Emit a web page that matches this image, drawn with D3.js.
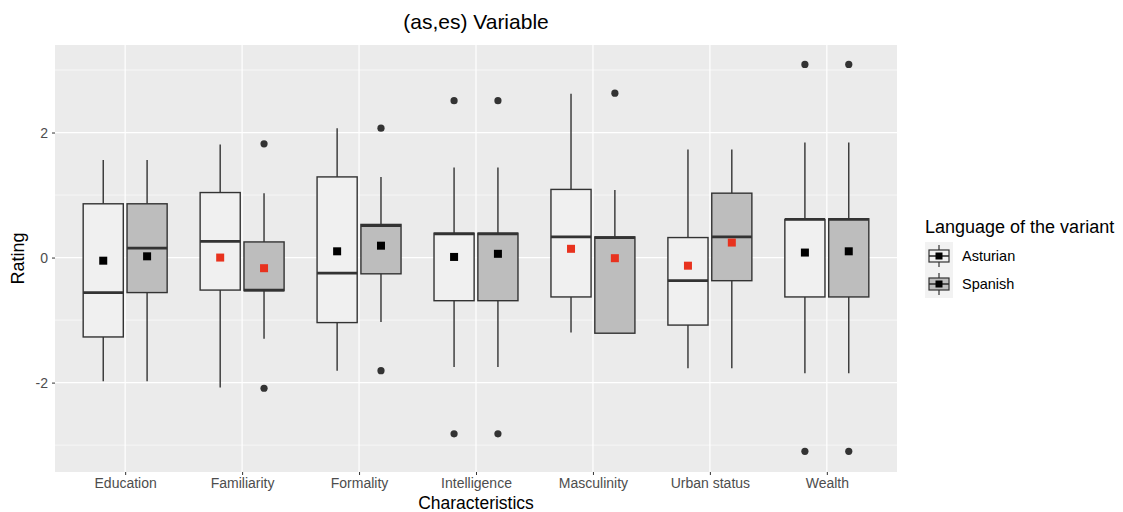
<!DOCTYPE html>
<html>
<head>
<meta charset="utf-8">
<script src="https://cdn.jsdelivr.net/npm/d3@7"></script>
<style>
  body { margin: 0; background: #fff; }
  text { font-family: "Liberation Sans", Arial, sans-serif; }
</style>
</head>
<body>
<svg id="chart" width="1123" height="512"></svg>
<script>
// categories and groups
const categories = ['Education', 'Familiarity', 'Formality', 'Intelligence', 'Masculinity', 'Urban status', 'Wealth'];
const groups = ['Asturian', 'Spanish'];

// box statistics, one value per category
const asturianLow    = [-1.98, -2.08, -1.81, -1.75, -1.20, -1.77, -1.85];
const asturianQ1     = [-1.27, -0.52, -1.04, -0.69, -0.63, -1.08, -0.63];
const asturianMedian = [-0.56,  0.26, -0.25,  0.38,  0.33, -0.37,  0.61];
const asturianQ3     = [ 0.86,  1.04,  1.29,  0.39,  1.09,  0.32,  0.61];
const asturianHigh   = [ 1.56,  1.81,  2.07,  1.44,  2.62,  1.73,  1.84];
const asturianMean   = [-0.05,  0.00,  0.10,  0.01,  0.14, -0.13,  0.08];
const asturianOut    = [[], [], [], [2.51, -2.82], [], [], [3.09, -3.10]];

const spanishLow     = [-1.98, -1.30, -1.03, -1.75, -1.21, -1.77, -1.85];
const spanishQ1      = [-0.56, -0.53, -0.26, -0.69, -1.21, -0.37, -0.63];
const spanishMedian  = [ 0.15, -0.52,  0.51,  0.38,  0.32,  0.33,  0.61];
const spanishQ3      = [ 0.86,  0.25,  0.53,  0.39,  0.33,  1.03,  0.62];
const spanishHigh    = [ 1.56,  1.03,  1.29,  1.44,  1.08,  1.73,  1.84];
const spanishMean    = [ 0.02, -0.17,  0.19,  0.06, -0.01,  0.24,  0.10];
const spanishOut     = [[], [1.82, -2.09], [2.07, -1.81], [2.51, -2.82], [2.63], [], [3.09, -3.10]];

// categories where the mean markers are drawn in red
const redCategories = ['Familiarity', 'Masculinity', 'Urban status'];

const yTicks = [-2, 0, 2];
const yMinor = [-3, -1, 1, 3];

const fills = { Asturian: '#f0f0f0', Spanish: '#bdbdbd' };

function buildRows(name, low, q1, med, q3, high, mean, out) {
  return categories.map((c, i) => ({
    cat: c, group: name, low: low[i], q1: q1[i], median: med[i], q3: q3[i],
    high: high[i], mean: mean[i], outliers: out[i]
  }));
}

const rows = buildRows('Asturian', asturianLow, asturianQ1, asturianMedian, asturianQ3, asturianHigh, asturianMean, asturianOut)
  .concat(buildRows('Spanish', spanishLow, spanishQ1, spanishMedian, spanishQ3, spanishHigh, spanishMean, spanishOut));

// panel layout
const panel = { left: 55, right: 897, top: 45, bottom: 472 };

const svg = d3.select('#chart');

// discrete x with ggplot-like 0.6 expansion
const x = d3.scalePoint()
  .domain(categories)
  .range([panel.left, panel.right])
  .padding(0.6);
const step = x.step();

const y = d3.scaleLinear()
  .domain([-3.43, 3.4])
  .range([panel.bottom, panel.top]);

const dodge = d3.scalePoint()
  .domain(groups)
  .range([-0.1875 * step, 0.1875 * step]);
const boxW = 0.343 * step;

// panel background
svg.append('rect')
  .attr('x', panel.left).attr('y', panel.top)
  .attr('width', panel.right - panel.left)
  .attr('height', panel.bottom - panel.top)
  .attr('fill', '#ebebeb');

const grid = svg.append('g');
grid.selectAll('.minor').data(yMinor).enter().append('line')
  .attr('x1', panel.left).attr('x2', panel.right)
  .attr('y1', d => y(d)).attr('y2', d => y(d))
  .attr('stroke', '#fff').attr('stroke-width', 0.6);
grid.selectAll('.major').data(yTicks).enter().append('line')
  .attr('x1', panel.left).attr('x2', panel.right)
  .attr('y1', d => y(d)).attr('y2', d => y(d))
  .attr('stroke', '#fff').attr('stroke-width', 1.2);
grid.selectAll('.vmajor').data(categories).enter().append('line')
  .attr('x1', d => x(d)).attr('x2', d => x(d))
  .attr('y1', panel.top).attr('y2', panel.bottom)
  .attr('stroke', '#fff').attr('stroke-width', 1.2);

// boxes
const box = svg.append('g').selectAll('g')
  .data(rows).enter().append('g')
  .attr('transform', d => `translate(${x(d.cat) + dodge(d.group)},0)`);

box.append('line')
  .attr('y1', d => y(d.high)).attr('y2', d => y(d.q3))
  .attr('stroke', '#333').attr('stroke-width', 1.4);
box.append('line')
  .attr('y1', d => y(d.q1)).attr('y2', d => y(d.low))
  .attr('stroke', '#333').attr('stroke-width', 1.4);
box.append('rect')
  .attr('x', -boxW / 2).attr('width', boxW)
  .attr('y', d => y(d.q3))
  .attr('height', d => y(d.q1) - y(d.q3))
  .attr('fill', d => fills[d.group])
  .attr('stroke', '#333').attr('stroke-width', 1.4);
box.append('line')
  .attr('x1', -boxW / 2).attr('x2', boxW / 2)
  .attr('y1', d => y(d.median)).attr('y2', d => y(d.median))
  .attr('stroke', '#333').attr('stroke-width', 2.8);

box.selectAll('circle')
  .data(d => d.outliers).enter().append('circle')
  .attr('r', 3.6)
  .attr('cy', d => y(d))
  .attr('fill', '#333');

box.append('rect')
  .attr('x', -4).attr('width', 8).attr('height', 8)
  .attr('y', d => y(d.mean) - 4)
  .attr('fill', d => redCategories.includes(d.cat) ? '#e8321e' : '#000');

// axes
const xAxis = svg.append('g')
  .attr('transform', `translate(0,${panel.bottom})`)
  .call(d3.axisBottom(x).tickSize(3).tickPadding(3));
const yAxis = svg.append('g')
  .attr('transform', `translate(${panel.left},0)`)
  .call(d3.axisLeft(y).tickValues(yTicks).tickFormat(d => String(d)).tickSize(3).tickPadding(4));

[xAxis, yAxis].forEach(a => {
  a.select('.domain').remove();
  a.selectAll('.tick line').attr('stroke', '#333');
  a.selectAll('.tick text').attr('fill', '#4d4d4d').style('font-size', '14px');
});

// titles
svg.append('text')
  .attr('x', (panel.left + panel.right) / 2).attr('y', 29)
  .attr('text-anchor', 'middle')
  .style('font-size', '21px')
  .text('(as,es) Variable');

svg.append('text')
  .attr('x', (panel.left + panel.right) / 2).attr('y', 509)
  .attr('text-anchor', 'middle')
  .style('font-size', '17.5px')
  .text('Characteristics');

svg.append('text')
  .attr('transform', `translate(24,${(panel.top + panel.bottom) / 2}) rotate(-90)`)
  .attr('text-anchor', 'middle')
  .style('font-size', '18px')
  .text('Rating');

// legend
const legend = svg.append('g').attr('transform', 'translate(925,0)');
legend.append('text')
  .attr('x', 0).attr('y', 233)
  .style('font-size', '18px')
  .text('Language of the variant');

const key = legend.selectAll('.key').data(groups).enter().append('g')
  .attr('transform', (d, i) => `translate(0,${242 + i * 28})`);
key.append('rect')
  .attr('width', 28).attr('height', 28)
  .attr('fill', '#f2f2f2');
key.append('line')
  .attr('x1', 14).attr('x2', 14).attr('y1', 3).attr('y2', 25)
  .attr('stroke', '#333').attr('stroke-width', 1.2);
key.append('rect')
  .attr('x', 4).attr('y', 8).attr('width', 20).attr('height', 12)
  .attr('fill', d => fills[d])
  .attr('stroke', '#333').attr('stroke-width', 1.2);
key.append('line')
  .attr('x1', 4).attr('x2', 24).attr('y1', 14).attr('y2', 14)
  .attr('stroke', '#333').attr('stroke-width', 1.6);
key.append('rect')
  .attr('x', 10.5).attr('y', 10.5).attr('width', 7).attr('height', 7)
  .attr('fill', '#000');
key.append('text')
  .attr('x', 37).attr('y', 19)
  .style('font-size', '14.5px')
  .text(d => d);
</script>
</body>
</html>
